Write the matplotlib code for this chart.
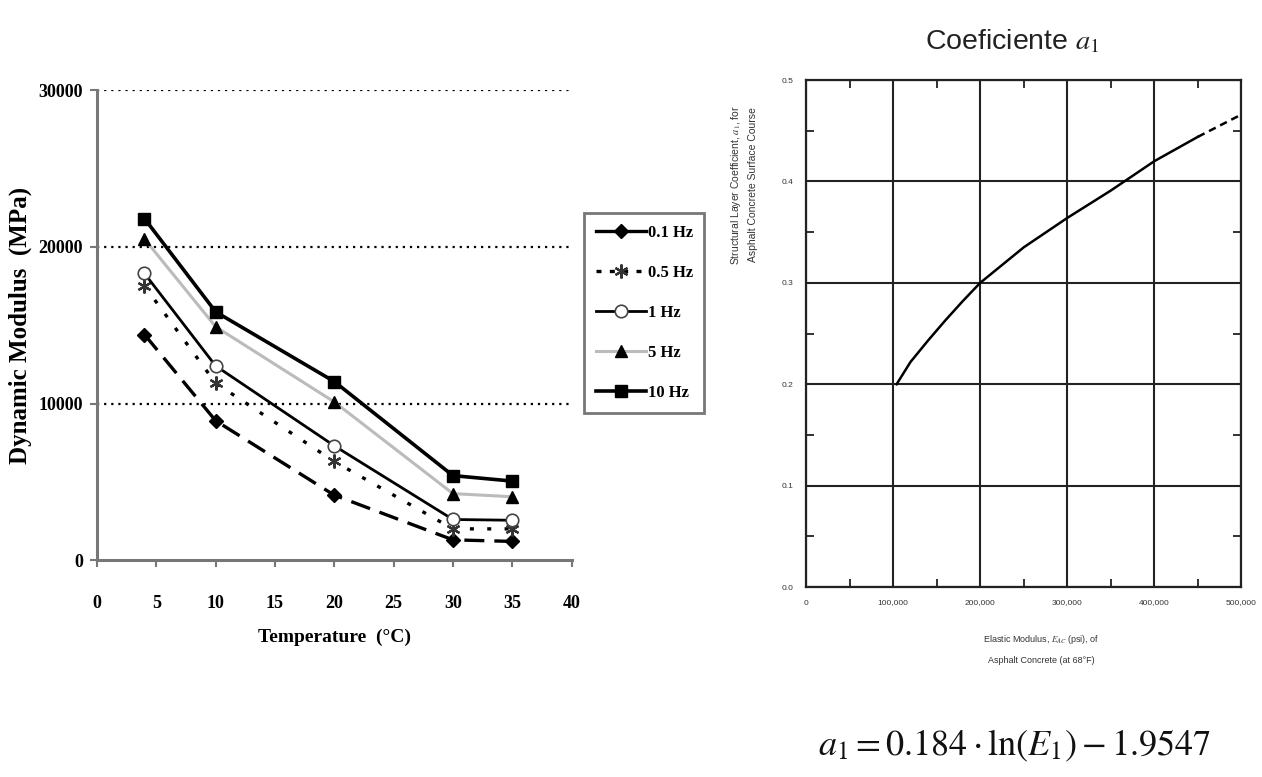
import matplotlib
matplotlib.use("Agg")
import matplotlib.pyplot as plt
from matplotlib.lines import Line2D
from matplotlib.ticker import FuncFormatter, MultipleLocator

# left chart: dynamic modulus vs temperature
temps = [4, 10, 20, 30, 35]
freq_labels = ["0.1 Hz", "0.5 Hz", "1 Hz", "5 Hz", "10 Hz"]
mod_01 = [14400, 8900, 4150, 1300, 1200]
mod_05 = [17500, 11300, 6300, 2000, 2000]
mod_1 = [18300, 12400, 7300, 2600, 2550]
mod_5 = [20500, 14900, 10100, 4250, 4050]
mod_10 = [21800, 15850, 11400, 5400, 5050]

# right chart: layer coefficient a1 vs elastic modulus (psi)
e_solid = [104000, 120000, 140000, 160000, 180000, 200000, 250000, 300000, 350000, 400000, 450000]
a1_solid = [0.200, 0.222, 0.243, 0.263, 0.282, 0.300, 0.335, 0.364, 0.391, 0.420, 0.444]
e_dash = [450000, 475000, 500000]
a1_dash = [0.444, 0.455, 0.466]

serif = ["Liberation Serif", "DejaVu Serif"]
sans = ["Liberation Sans", "DejaVu Sans"]
plt.rcParams["mathtext.fontset"] = "stix"

fig = plt.figure(figsize=(12.62, 7.77), dpi=100)

ax = fig.add_axes([0.0769, 0.279, 0.376, 0.605])
styles = [
    dict(color="black", ls=(0, (6, 3)), lw=2.4, marker="D", ms=7, mfc="black", mec="black"),
    dict(color="black", ls=(0, (1.2, 4)), lw=2.4, marker=(6, 2, 0), ms=10, mew=1.6, mec="#333333"),
    dict(color="black", ls="-", lw=2.0, marker="o", ms=9, mfc="white", mec="#444444", mew=1.2),
    dict(color="#bbbbbb", ls="-", lw=2.2, marker="^", ms=8, mfc="black", mec="black"),
    dict(color="black", ls="-", lw=2.6, marker="s", ms=9, mfc="black", mec="black"),
]
series = [mod_01, mod_05, mod_1, mod_5, mod_10]
for vals, st in zip(series, styles):
    ax.plot(temps, vals, **st, zorder=3)

ax.set_xlim(0, 40)
ax.set_ylim(0, 30000)
ax.set_xticks(range(0, 41, 5))
ax.set_yticks([0, 10000, 20000, 30000])
for yv in [10000, 20000, 30000]:
    ax.axhline(yv, color="black", ls=(0, (1, 2.2)), lw=1.6, zorder=1)
for s in ["top", "right"]:
    ax.spines[s].set_visible(False)
for s in ["left", "bottom"]:
    ax.spines[s].set_color("#777777")
    ax.spines[s].set_linewidth(2.2)
ax.tick_params(axis="both", direction="out", length=5, width=1.5, color="#777777")
ax.tick_params(axis="x", pad=20)
ax.tick_params(axis="y", pad=5)
for lab in ax.get_xticklabels() + ax.get_yticklabels():
    lab.set_fontfamily(serif)
    lab.set_fontweight("bold")
    lab.set_fontsize(13)
ax.set_xlabel("Temperature  (°C)", fontfamily=serif, fontweight="bold", fontsize=14, labelpad=12)
ax.set_ylabel("Dynamic Modulus  (MPa)", fontfamily=serif, fontweight="bold", fontsize=18, labelpad=5)

handles = []
for i, st in enumerate(styles):
    h = dict(st)
    if i == 0:
        h["ls"] = "-"
    if i == 1:
        h["ls"] = (0, (1.5, 2.5))
    handles.append(Line2D([], [], **h))
leg = fig.legend(handles, freq_labels, loc="upper left", bbox_to_anchor=(0.463, 0.726),
                 prop={"family": serif, "weight": "bold", "size": 12},
                 frameon=True, fancybox=False, edgecolor="#555555", borderaxespad=0,
                 handlelength=3.0, labelspacing=1.45, borderpad=0.7, handletextpad=0.1)
leg.get_frame().set_linewidth(2)

# right chart
ax2 = fig.add_axes([0.6387, 0.2445, 0.345, 0.6525])
ax2.plot(e_solid, a1_solid, color="black", lw=1.8, zorder=3)
ax2.plot(e_dash, a1_dash, color="black", lw=1.8, ls=(0, (3, 2)), zorder=3)
ax2.set_xlim(0, 500000)
ax2.set_ylim(0, 0.5)
ax2.xaxis.set_major_locator(MultipleLocator(100000))
ax2.xaxis.set_minor_locator(MultipleLocator(50000))
ax2.yaxis.set_major_locator(MultipleLocator(0.1))
ax2.yaxis.set_minor_locator(MultipleLocator(0.05))
ax2.xaxis.set_major_formatter(FuncFormatter(lambda v, p: f"{int(v):,}"))
ax2.yaxis.set_major_formatter(FuncFormatter(lambda v, p: f"{v:.1f}"))
ax2.grid(True, which="major", color="#222222", lw=1.5)
for s in ax2.spines.values():
    s.set_linewidth(1.6)
    s.set_color("#222222")
ax2.tick_params(which="both", direction="in", top=True, right=True, width=1.3, color="#222222")
ax2.tick_params(which="major", length=0, labelsize=6, pad=9)
ax2.tick_params(which="minor", length=6)
for lab in ax2.get_xticklabels() + ax2.get_yticklabels():
    lab.set_fontfamily(sans)
    lab.set_color("#333333")

fig.text(0.589, 0.762, "Structural Layer Coefficient, $a_1$, for\nAsphalt Concrete Surface Course",
         rotation=90, ha="center", va="center", fontsize=7.5, family=sans, color="#333333",
         linespacing=1.7)
fig.text(0.825, 0.165, "Elastic Modulus, $E_{AC}$ (psi), of\nAsphalt Concrete (at 68°F)",
         ha="center", va="center", fontsize=6.5, family=sans, color="#333333", linespacing=2.4)

fig.text(0.802, 0.947, "Coeficiente $\\mathit{a_1}$", ha="center", va="center",
         fontsize=20.5, family=sans, color="#222222")
fig.text(0.804, 0.04, r"$a_1 = 0.184 \cdot \ln(E_1) - 1.9547$", ha="center", va="center",
         fontsize=26, color="#111111")

fig.savefig("out.png", dpi=100)
